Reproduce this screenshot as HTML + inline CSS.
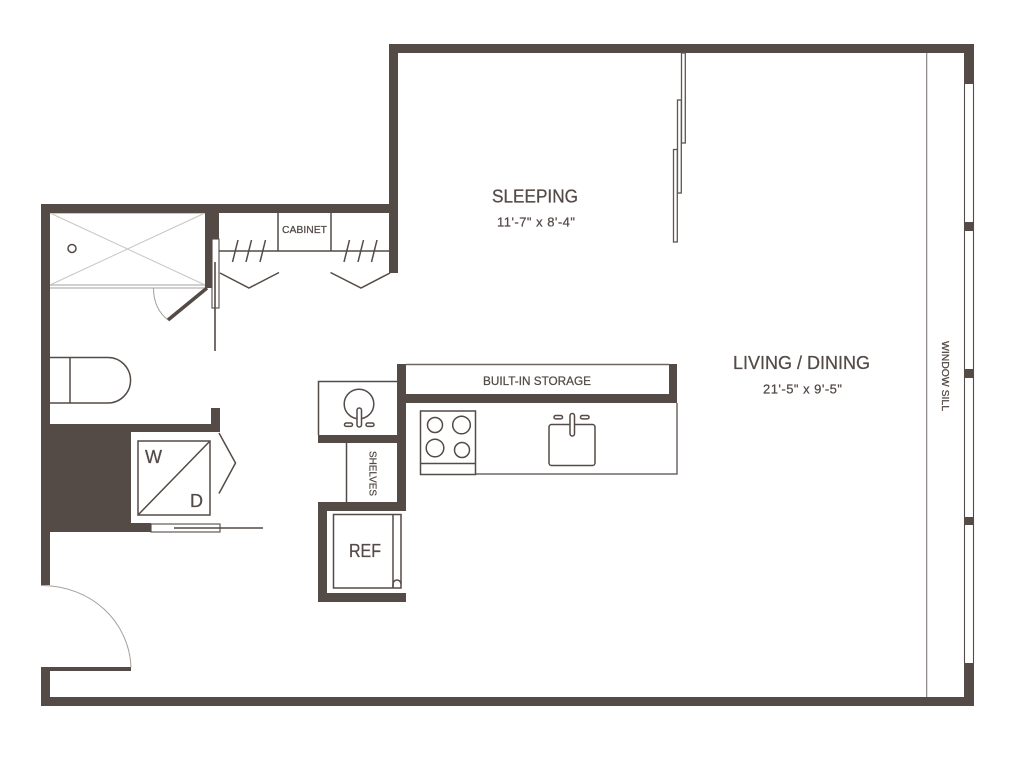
<!DOCTYPE html>
<html>
<head>
<meta charset="utf-8">
<style>
html,body{margin:0;padding:0;background:#fff;width:1024px;height:769px;overflow:hidden}
svg{display:block}
text{font-family:"Liberation Sans",sans-serif;fill:#544a46;stroke:#544a46;stroke-width:.25px}
</style>
</head>
<body>
<svg width="1024" height="769" viewBox="0 0 1024 769" xmlns="http://www.w3.org/2000/svg">
<!-- light fixtures -->
<g fill="none" stroke="#c9c6c4" stroke-width="1">
  <path d="M50 213L205 285M205 213L50 285"/>
  <path d="M50 213.5H205"/>
</g>
<path d="M50 285H205M50 288H207" fill="none" stroke="#c4c0be" stroke-width="1.4"/>
<path d="M153.500 288C153.500 302 159 313 168 320" fill="none" stroke="#a5a09e" stroke-width="1"/>
<path d="M41 585.500C92 585.500 129 622 131 667" fill="none" stroke="#a5a09e" stroke-width="1"/>
<!-- solid walls -->
<g fill="#544a46">
  <rect x="389" y="44" width="585" height="9"/>
  <rect x="389" y="44" width="9" height="229"/>
  <rect x="41" y="204" width="357" height="9"/>
  <rect x="41" y="204" width="9" height="381"/>
  <rect x="205" y="204" width="14" height="35"/>
  <rect x="205" y="239" width="7" height="49"/>
  <rect x="964" y="44" width="10" height="40"/>
  <rect x="964" y="222" width="10" height="9"/>
  <rect x="964" y="369" width="10" height="9"/>
  <rect x="964" y="517" width="10" height="8"/>
  <rect x="964" y="663" width="10" height="43"/>
  <rect x="41" y="697" width="933" height="9"/>
  <rect x="41" y="667" width="90" height="4"/>
  <rect x="41" y="667" width="9" height="39"/>
  <rect x="211" y="408" width="9" height="24"/>
  <rect x="50" y="424" width="170" height="8"/>
  <rect x="50" y="424" width="81" height="108"/>
  <rect x="131" y="523" width="20" height="9"/>
  <rect x="397" y="364" width="9" height="147"/>
  <rect x="397" y="394" width="280" height="9"/>
  <rect x="669" y="364" width="8" height="30"/>
  <rect x="318" y="435" width="79" height="8"/>
  <rect x="318" y="502" width="88" height="9"/>
  <rect x="318" y="502" width="9" height="100"/>
  <rect x="318" y="593" width="88" height="9"/>
</g>
<!-- door lines and fixtures -->
<g fill="none" stroke="#544a46" stroke-width="1.500">
  <!-- window -->
  <path d="M964.500 84V663M973.500 84V663" stroke-width="1.100"/>
  <path d="M926.700 53V697" stroke="#7f7875" stroke-width="1.100"/>
  <!-- pocket door -->
  <rect x="212" y="239" width="7" height="69" fill="#fff" stroke-width="1.100"/>
  <path d="M215 262V351" stroke-width="1.600"/>
  <!-- bathroom door -->
  <path d="M207 288L168 320" stroke="#544a46" stroke-width="3.600"/>
  <!-- drain -->
  <circle cx="72" cy="248.500" r="4"/>
  <!-- toilet -->
  <path d="M50 357.500H108A22.500 22.700 0 0 1 108 403H50M70 357.500V403"/>
  <!-- closet -->
  <path d="M219 251H389M278 213V251M331 213V251"/>
  <path d="M232.500 262L238 240M246 262L251.500 240M260 262L265.500 240M344 262L349.500 240M358 262L363.500 240M371.500 262L377 240"/>
  <path d="M220 273L249 288L279 272.500M330.500 272.500L361 288L390 273"/>
  <!-- W/D -->
  <rect x="138" y="441" width="72" height="74"/>
  <path d="M138 515L210 441"/>
  <path d="M219 433L235.500 463L219 493.500"/>
  <rect x="151" y="524" width="69" height="8" fill="#fff" stroke-width="1.100"/>
  <path d="M174 528H263" stroke-width="1.600"/>
  <!-- kitchen -->
  <path d="M406 364.500H669M677 403V474H476" stroke="#6e6663"/>
  <path d="M397 381.500H318.500V435"/>
  <circle cx="359" cy="404" r="14.800"/>
  <rect x="357" y="408" width="4.500" height="19" rx="2.200" fill="#fff"/>
  <rect x="344.500" y="423" width="8" height="3.400" rx="1.700"/>
  <rect x="366" y="423" width="8" height="3.400" rx="1.700"/>
  <rect x="420.500" y="411" width="55" height="63.500"/>
  <path d="M420.500 463.500H475.500"/>
  <circle cx="435" cy="425" r="7.500"/>
  <circle cx="461.500" cy="425" r="8.800"/>
  <circle cx="435" cy="448" r="8.800"/>
  <circle cx="462" cy="450" r="7.500"/>
  <rect x="549" y="424.500" width="46" height="41" rx="2.500"/>
  <rect x="570" y="413.500" width="4.500" height="22.500" rx="2.200" fill="#fff"/>
  <rect x="554" y="415.500" width="8.500" height="3.400" rx="1.700"/>
  <rect x="580.500" y="415.500" width="8.500" height="3.400" rx="1.700"/>
  <!-- shelves -->
  <path d="M346.500 443V502"/>
  <!-- ref -->
  <rect x="333.500" y="514.500" width="67.500" height="73.500"/>
  <path d="M393 514.500V588"/>
  <path d="M393 588V584A4 4 0 0 1 401 584"/>
  <!-- sliding doors -->
  <g stroke="#5f5552" stroke-width="1.300">
    <rect x="681.500" y="53" width="3.800" height="90" fill="#fff"/>
    <rect x="677.500" y="100" width="3.800" height="93" fill="#fff"/>
    <rect x="673.500" y="149.500" width="3.800" height="92.500" fill="#fff"/>
  </g>
</g>
<!-- labels -->
<text x="492" y="202.500" font-size="18" textLength="86" lengthAdjust="spacingAndGlyphs">SLEEPING</text>
<text x="497" y="226.500" font-size="13" textLength="78" lengthAdjust="spacing">11'-7" x 8'-4"</text>
<text x="733" y="369" font-size="18" textLength="137" lengthAdjust="spacingAndGlyphs">LIVING / DINING</text>
<text x="763" y="393.500" font-size="13" textLength="79" lengthAdjust="spacing">21'-5" x 9'-5"</text>
<text x="483" y="385" font-size="12" textLength="108" lengthAdjust="spacingAndGlyphs">BUILT-IN STORAGE</text>
<text x="282" y="233" font-size="10.500" textLength="45" lengthAdjust="spacingAndGlyphs">CABINET</text>
<text x="349" y="557" font-size="18" textLength="32" lengthAdjust="spacingAndGlyphs">REF</text>
<text x="145" y="463" font-size="18">W</text>
<text x="190" y="507" font-size="18">D</text>
<text transform="translate(369.500 451) rotate(90)" font-size="10.500" textLength="45" lengthAdjust="spacingAndGlyphs">SHELVES</text>
<text transform="translate(942 341) rotate(90)" font-size="10" textLength="70" lengthAdjust="spacingAndGlyphs">WINDOW SILL</text>
</svg>
</body>
</html>
